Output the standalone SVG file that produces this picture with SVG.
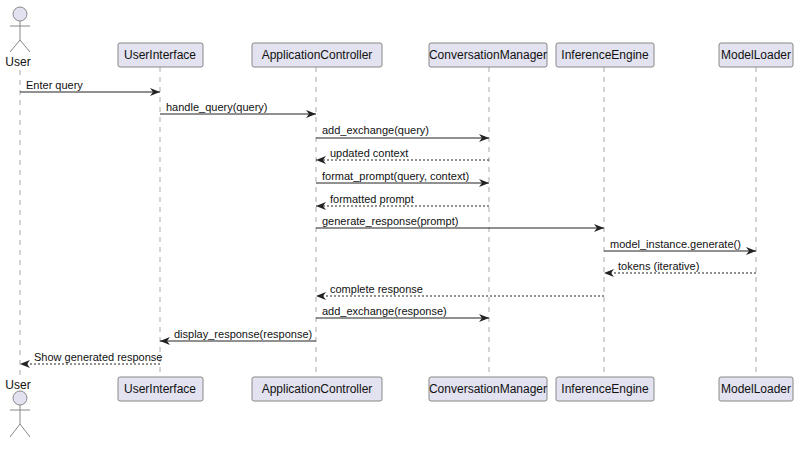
<svg xmlns="http://www.w3.org/2000/svg" width="806" height="454" viewBox="0 0 806 454">
<defs>
<style>
.p{fill:#E2E2F0;stroke:#888;stroke-width:1}
.pt{font-family:"Liberation Sans",Arial,sans-serif;font-size:12px;fill:#111;text-anchor:middle}
.ll{stroke:#aaa;stroke-dasharray:5,5;stroke-width:1}
.m{stroke:#222;stroke-width:1;fill:none;marker-end:url(#a)}
.d{stroke-dasharray:2,2}
.mt{font-family:"Liberation Sans",Arial,sans-serif;font-size:11px;fill:#111}
.act{fill:#E2E2F0;stroke:#888}
.al{stroke:#888;fill:none}
</style>
<marker id="a" markerWidth="10" markerHeight="8" refX="10" refY="4" orient="auto" markerUnits="userSpaceOnUse"><path d="M0,0 L10,4 L0,8 L3,4 Z" fill="#222"/></marker>
</defs>
<rect width="806" height="454" fill="#fff"/>
<g id="lifelines">
<line class="ll" x1="20" y1="70" x2="20" y2="376"/>
<line class="ll" x1="160" y1="67" x2="160" y2="376"/>
<line class="ll" x1="316" y1="67" x2="316" y2="376"/>
<line class="ll" x1="489" y1="67" x2="489" y2="376"/>
<line class="ll" x1="604" y1="67" x2="604" y2="376"/>
<line class="ll" x1="756" y1="67" x2="756" y2="376"/>
</g>
<g id="User">
<circle class="act" cx="20" cy="14" r="7"/>
<path class="al" d="M20,21 V40 M10,26 H30 M10,52 L20,40 L30,52"/>
<text class="pt" x="18" y="66">User</text>
<text class="pt" x="18" y="389">User</text>
<circle class="act" cx="20" cy="398" r="7"/>
<path class="al" d="M20,405 V424 M10,410 H30 M10,437 L20,424 L30,437"/>
</g>
<g id="UserInterface">
<rect class="p" x="118" y="43" width="85" height="24" rx="2"/><text class="pt" x="160" y="59">UserInterface</text>
<rect class="p" x="118" y="377" width="85" height="24" rx="2"/><text class="pt" x="160" y="393">UserInterface</text>
</g>
<g id="ApplicationController">
<rect class="p" x="252" y="43" width="130" height="24" rx="2"/><text class="pt" x="317" y="59">ApplicationController</text>
<rect class="p" x="252" y="377" width="130" height="24" rx="2"/><text class="pt" x="317" y="393">ApplicationController</text>
</g>
<g id="ConversationManager">
<rect class="p" x="429" y="43" width="118" height="24" rx="2"/><text class="pt" x="488" y="59">ConversationManager</text>
<rect class="p" x="429" y="377" width="118" height="24" rx="2"/><text class="pt" x="488" y="393">ConversationManager</text>
</g>
<g id="InferenceEngine">
<rect class="p" x="556" y="43" width="98" height="24" rx="2"/><text class="pt" x="605" y="59">InferenceEngine</text>
<rect class="p" x="556" y="377" width="98" height="24" rx="2"/><text class="pt" x="605" y="393">InferenceEngine</text>
</g>
<g id="ModelLoader">
<rect class="p" x="719" y="43" width="74" height="24" rx="2"/><text class="pt" x="756" y="59">ModelLoader</text>
<rect class="p" x="719" y="377" width="74" height="24" rx="2"/><text class="pt" x="756" y="393">ModelLoader</text>
</g>
<g id="connectors">
<line class="m" x1="20" y1="92" x2="160" y2="92"/><text class="mt" x="26" y="89">Enter query</text>
<line class="m" x1="160" y1="114" x2="316" y2="114"/><text class="mt" x="166" y="111">handle_query(query)</text>
<line class="m" x1="316" y1="138" x2="489" y2="138"/><text class="mt" x="322" y="134">add_exchange(query)</text>
<line class="m d" x1="489" y1="160" x2="316" y2="160"/><text class="mt" x="330" y="157">updated context</text>
<line class="m" x1="316" y1="183" x2="489" y2="183"/><text class="mt" x="322" y="180">format_prompt(query, context)</text>
<line class="m d" x1="489" y1="206" x2="316" y2="206"/><text class="mt" x="330" y="203">formatted prompt</text>
<line class="m" x1="316" y1="228" x2="604" y2="228"/><text class="mt" x="322" y="225">generate_response(prompt)</text>
<line class="m" x1="604" y1="251" x2="756" y2="251"/><text class="mt" x="610" y="248">model_instance.generate()</text>
<line class="m d" x1="756" y1="273" x2="604" y2="273"/><text class="mt" x="618" y="270">tokens (iterative)</text>
<line class="m d" x1="604" y1="296" x2="316" y2="296"/><text class="mt" x="330" y="293">complete response</text>
<line class="m" x1="316" y1="318" x2="489" y2="318"/><text class="mt" x="322" y="315">add_exchange(response)</text>
<line class="m" x1="316" y1="341" x2="160" y2="341"/><text class="mt" x="174" y="338">display_response(response)</text>
<line class="m d" x1="160" y1="364" x2="20" y2="364"/><text class="mt" x="34" y="361">Show generated response</text>
</g>
</svg>
